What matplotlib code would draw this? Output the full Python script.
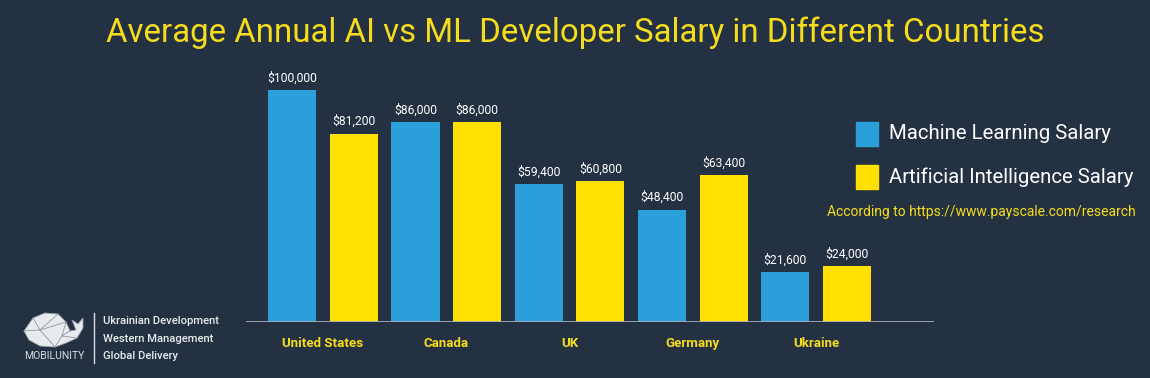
import matplotlib
matplotlib.use("Agg")
import matplotlib.pyplot as plt
import numpy as np
from matplotlib.patches import Polygon
from matplotlib.lines import Line2D

countries = ["United States", "Canada", "UK", "Germany", "Ukraine"]
ml_salary = [100000, 86000, 59400, 48400, 21600]
ai_salary = [81200, 86000, 60800, 63400, 24000]
series_names = ["Machine Learning Salary", "Artificial Intelligence Salary"]
title = "Average Annual AI vs ML Developer Salary in Different Countries"
source = "According to https://www.payscale.com/research"

BG = "#243142"
BLUE = "#2b9fda"
YELLOW = "#ffe000"
TITLE_Y = "#f5dc1c"
W, H = 1150, 378

plt.rcParams['font.family'] = ['Roboto', 'DejaVu Sans']

fig = plt.figure(figsize=(W / 100, H / 100), dpi=100, facecolor=BG)

def fx(x):
    return x / W

def fy(y):
    return 1 - y / H

# main axes
ax = fig.add_axes([fx(246), fy(322), fx(934) - fx(246), fy(60) - fy(322)])
ax.set_facecolor(BG)
x = np.arange(len(countries))
bw = 0.39
off = 0.25
b1 = ax.bar(x - off, ml_salary, bw, color=BLUE, zorder=2)
b2 = ax.bar(x + off, ai_salary, bw, color=YELLOW, zorder=2)
ax.set_xlim(-0.625, 4.957)
ax.set_ylim(0, 100000 * (322 - 60) / 232)
for s in ax.spines.values():
    s.set_visible(False)
ax.axhline(0, color="#a3adb8", lw=2, zorder=3)
ax.set_yticks([])
ax.set_xticks(x)
ax.set_xticklabels(countries, color=TITLE_Y, fontweight="bold", fontsize=9.5,
                   family=['Liberation Sans Narrow', 'Roboto', 'DejaVu Sans'])
ax.tick_params(axis='x', length=0, pad=11)

for bars in (b1, b2):
    for r in bars:
        v = r.get_height()
        ax.annotate(f"${v:,.0f}", (r.get_x() + r.get_width() / 2, v),
                    xytext=(0, 4), textcoords="offset points",
                    ha="center", va="bottom", color="white", fontsize=8.7)

# title
fig.text(0.5, fy(33), title, ha="center", va="center", color=TITLE_Y, fontsize=23.8)

# legend
for i, (name, col) in enumerate(zip(series_names, [BLUE, YELLOW])):
    yc = 134 + i * 43
    fig.patches.append(plt.Rectangle((fx(856), fy(yc + 12)), fx(22), fy(yc - 12) - fy(yc + 12),
                                     transform=fig.transFigure, color=col, figure=fig))
    fig.text(fx(889), fy(yc), name, ha="left", va="center", color="white", fontsize=14.7)

fig.text(fx(1136), fy(212), source, ha="right", va="center", color=TITLE_Y, fontsize=10)

# logo (decoration)
whale = [(24, 331), (33, 318), (45, 313), (58, 314), (66, 322), (70, 331), (76, 330),
         (72, 320), (78, 324), (83, 318), (83, 328), (77, 338), (66, 343), (55, 347),
         (40, 346), (29, 340)]
fig.patches.append(Polygon([(fx(a), fy(b)) for a, b in whale], closed=True,
                           transform=fig.transFigure, facecolor="#e8ebee",
                           edgecolor="#9aa3ad", lw=0.6, figure=fig))
facets = [[(33, 318), (40, 330), (24, 331)], [(40, 330), (58, 314)], [(40, 330), (55, 347)],
          [(40, 330), (66, 322)], [(66, 322), (62, 336), (55, 347)], [(62, 336), (70, 331)],
          [(62, 336), (77, 338)]]
for f in facets:
    fig.lines.append(Line2D([fx(a) for a, b in f], [fy(b) for a, b in f],
                            transform=fig.transFigure, color="#8d97a2", lw=0.6, figure=fig))
fig.text(fx(54), fy(356), "MOBILUNITY", ha="center", va="center", color="#d8dde2", fontsize=7.5)
fig.lines.append(Line2D([fx(94), fx(94)], [fy(313), fy(363)], transform=fig.transFigure,
                        color="#d8dde2", lw=1, figure=fig))
for i, t in enumerate(["Ukrainian Development", "Western Management", "Global Delivery"]):
    fig.text(fx(103), fy(321 + i * 17.5), t, ha="left", va="center", color="#e8ebee",
             fontsize=8.1, fontweight="medium")

fig.savefig("out.png", dpi=100, facecolor=BG)
